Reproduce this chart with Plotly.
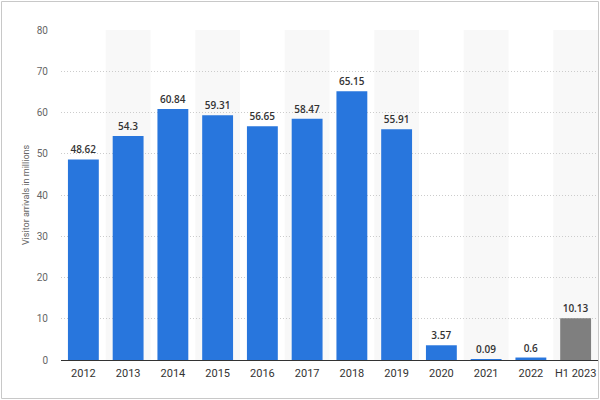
import plotly.graph_objects as go

categories = ["2012", "2013", "2014", "2015", "2016", "2017", "2018", "2019", "2020", "2021", "2022", "H1 2023"]
values = [48.62, 54.3, 60.84, 59.31, 56.65, 58.47, 65.15, 55.91, 3.57, 0.09, 0.6, 10.13]
labels = ["48.62", "54.3", "60.84", "59.31", "56.65", "58.47", "65.15", "55.91", "3.57", "0.09", "0.6", "10.13"]
y_ticks = [0, 10, 20, 30, 40, 50, 60, 70, 80]

colors = ["#2876dd"] * (len(categories) - 1) + ["#7f7f7f"]

L, R, T, B = 61, 2, 30, 40
W, H = 600, 400

fig = go.Figure()
fig.add_trace(go.Bar(
    x=categories, y=values, text=labels, textposition="outside",
    marker=dict(color=colors, line=dict(width=0)),
    width=0.69,
    textfont=dict(family="Open Sans, Arial", size=10, color="#333333", weight=600),
    cliponaxis=False,
))

shapes = []
for i in range(len(categories)):
    if i % 2 == 1:
        shapes.append(dict(type="rect", xref="x", yref="y", x0=i - 0.5, x1=i + 0.5, y0=0, y1=80,
                           fillcolor="#f8f8f8", line=dict(width=0), layer="below"))
pw, ph = W - L - R, H - T - B
shapes.append(dict(type="rect", xref="paper", yref="paper",
                   x0=(1.5 - L) / pw, x1=(598.5 - L) / pw,
                   y0=(H - B - 398.5) / ph, y1=(H - B - 1.5) / ph,
                   line=dict(color="#c8c8c8", width=1), fillcolor="rgba(0,0,0,0)", layer="above"))

fig.update_layout(
    width=W, height=H,
    margin=dict(l=L, r=R, t=T, b=B),
    paper_bgcolor="white", plot_bgcolor="white",
    showlegend=False,
    shapes=shapes,
    font=dict(family="Roboto, Arial", color="#333333"),
)
fig.update_xaxes(
    type="category", showgrid=False, showline=True, linecolor="#333333", linewidth=1,
    tickfont=dict(size=11, color="#333333"), ticks="", ticklabelstandoff=3,
    range=[-0.5, len(categories) - 0.5],
)
fig.update_yaxes(
    range=[0, 80], tickvals=y_ticks, showgrid=True, gridcolor="#cccccc", griddash="1px,2px",
    zeroline=False, showline=False, tickfont=dict(size=10, color="#666666"),
    ticklabelstandoff=12,
    title=dict(text="Visitor arrivals in millions", font=dict(size=9, color="#666666"), standoff=5),
)

fig.write_html("out.html")
